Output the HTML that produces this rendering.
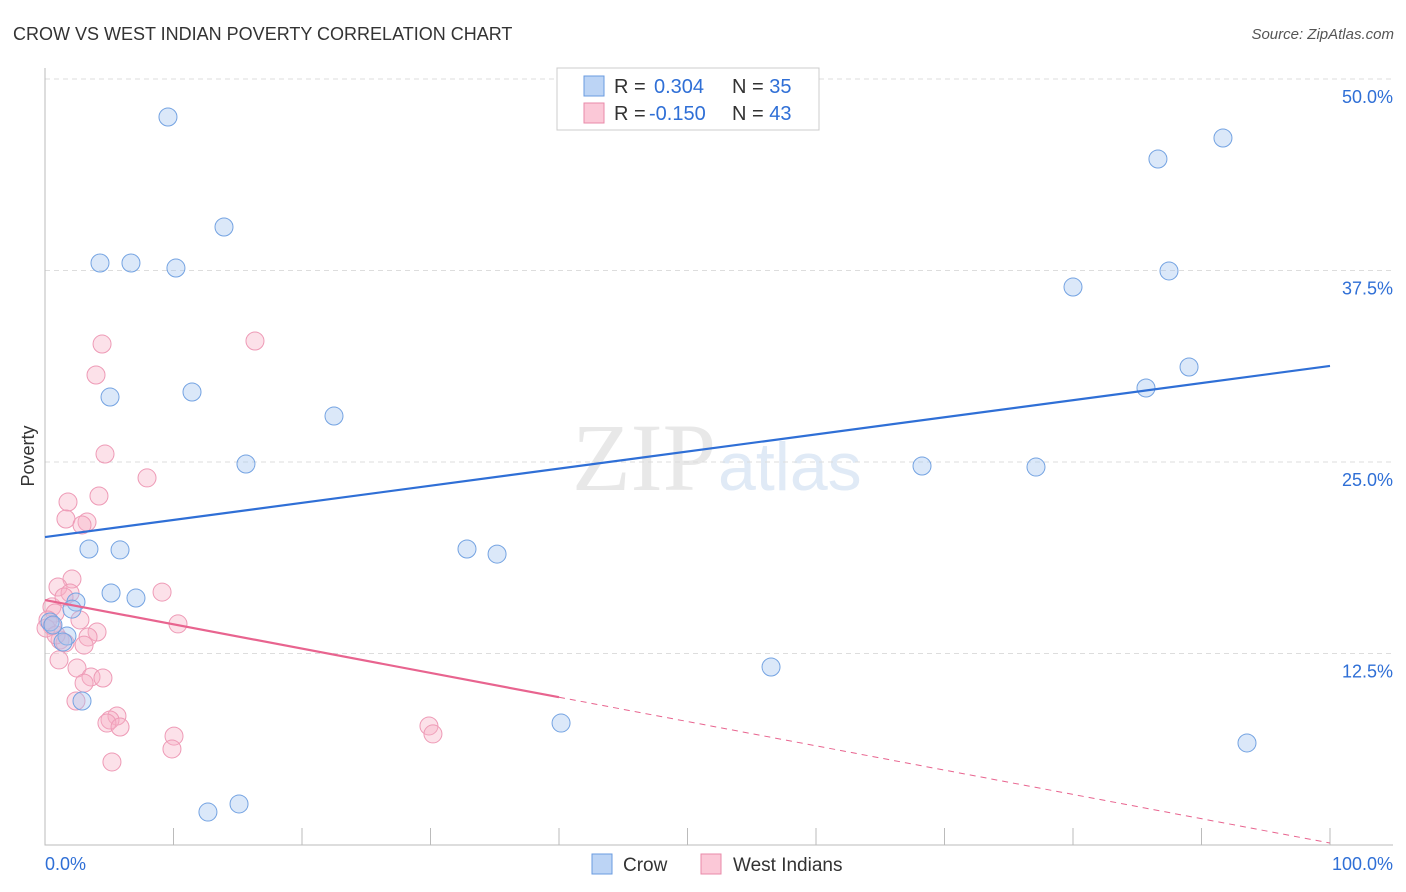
<!DOCTYPE html>
<html><head><meta charset="utf-8"><style>
body{margin:0;background:#fff;font-family:"Liberation Sans",sans-serif;}
svg{display:block}
</style></head><body>
<svg id="c" width="1406" height="892">
<text x="13" y="40" font-size="18" fill="#333">CROW VS WEST INDIAN POVERTY CORRELATION CHART</text>
<text x="1394" y="39" font-size="15" fill="#555" font-style="italic" text-anchor="end">Source: ZipAtlas.com</text>
<text x="716" y="490" font-size="96" fill="#e8e8e8" font-family="Liberation Serif,serif" text-anchor="end">ZIP</text>
<text x="718" y="490" font-size="68" fill="#e0eaf6">atlas</text>
<text x="34" y="456" font-size="18" fill="#333" transform="rotate(-90 34 456)" text-anchor="middle">Poverty</text>
<g id="grid"></g><g id="marks"></g>
<g>
<rect x="557" y="68" width="262" height="62" fill="#fff" stroke="#ccc"/>
<rect x="584" y="76" width="20" height="20" fill="#bcd4f5" stroke="#6a9be0"/>
<rect x="584" y="103" width="20" height="20" fill="#fbc8d7" stroke="#e88aa8"/>
<text x="614" y="93" font-size="20" fill="#333">R = <tspan x="654" fill="#2f6fd6">0.304</tspan><tspan x="732">N = </tspan><tspan fill="#2f6fd6">35</tspan></text>
<text x="614" y="120" font-size="20" fill="#333">R = <tspan x="649" fill="#2f6fd6">-0.150</tspan><tspan x="732">N = </tspan><tspan fill="#2f6fd6">43</tspan></text>
</g>
<g>
<rect x="592" y="854" width="20" height="20" fill="#bcd4f5" stroke="#6a9be0"/>
<text x="623" y="871" font-size="19" fill="#333">Crow</text>
<rect x="701" y="854" width="20" height="20" fill="#fbc8d7" stroke="#e88aa8"/>
<text x="733" y="871" font-size="19" fill="#333">West Indians</text>
</g>
<text x="45" y="870" font-size="18" fill="#2f6fd6">0.0%</text>
<text x="1393" y="870" font-size="18" fill="#2f6fd6" text-anchor="end">100.0%</text>
</svg>
<script>
const yTicks=[50,37.5,25,12.5];
const yTickLabels=["50.0%","37.5%","25.0%","12.5%"];
const crowX=[9.57,13.93,4.28,6.69,10.19,5.06,11.44,22.49,15.64,3.42,5.84,5.14,7.08,2.41,2.10,1.71,1.40,2.88,12.68,15.10,32.84,35.18,40.16,56.50,68.25,77.12,80.0,86.61,87.47,85.68,89.03,91.67,93.54,0.39,0.62];
const crowY=[47.52,40.34,37.99,37.99,37.66,29.24,29.57,28.0,24.87,19.32,19.26,16.45,16.12,15.86,15.40,13.64,13.25,9.40,2.15,2.68,19.32,18.99,7.96,11.62,24.74,24.67,36.42,44.78,37.47,29.83,31.20,46.15,6.66,14.56,14.36];
const wiX=[4.44,16.34,3.97,4.67,7.94,4.20,1.79,1.63,3.27,2.88,2.10,1.01,1.95,9.11,0.54,0.78,2.72,10.35,0.23,0.54,0.08,4.05,3.35,1.17,3.04,1.56,1.09,2.49,3.58,4.51,3.04,2.41,5.60,5.06,4.82,5.84,10.04,9.88,5.21,29.88,30.19,0.86,1.48];
const wiY=[32.70,32.90,30.68,25.52,23.96,22.78,22.39,21.28,21.08,20.89,17.36,16.84,16.45,16.51,15.54,15.14,14.69,14.43,14.69,14.30,14.16,13.90,13.58,13.38,13.05,13.19,12.08,11.55,10.97,10.90,10.57,9.40,8.42,8.16,7.96,7.70,7.11,6.27,5.42,7.77,7.25,13.71,16.19];
const crowTrend=[20.10,31.27];
const wiTrend=[15.99,0.13];
const wiSolidEnd=40;
const NS="http://www.w3.org/2000/svg";
const X=v=>45+v*12.85, Y=v=>845-v*15.32;
function mk(t,a,p){const e=document.createElementNS(NS,t);for(const k in a)e.setAttribute(k,a[k]);p.appendChild(e);return e;}
const g=document.getElementById('grid'),m=document.getElementById('marks');
yTicks.forEach((t,i)=>{
 const l=mk('line',{x1:45,x2:1393,y1:Y(t),y2:Y(t),stroke:'#ddd','stroke-dasharray':'5,4'},g);
 
 
 const tx=mk('text',{x:1393,y:Y(t)+24,'font-size':18,fill:'#2f6fd6','text-anchor':'end'},g);
 tx.textContent=yTickLabels[i];
 
 
});
const ax=mk('path',{d:'M45 68V845H1393',stroke:'#bbb',fill:'none'},g);


for(let i=1;i<=10;i++){const t=mk('line',{x1:X(i*10),x2:X(i*10),y1:828,y2:845,stroke:'#bbb'},g);
 
 }
wiX.forEach((x,i)=>{const c=mk('circle',{cx:X(x),cy:Y(wiY[i]),r:9,fill:'rgba(248,175,198,0.38)',stroke:'#ee9ab6','stroke-width':1},m);
 
 });
crowX.forEach((x,i)=>{const c=mk('circle',{cx:X(x),cy:Y(crowY[i]),r:9,fill:'rgba(165,198,240,0.4)',stroke:'#74a3e2','stroke-width':1},m);
 
 });
const cl=mk('line',{x1:X(0),y1:Y(crowTrend[0]),x2:X(100),y2:Y(crowTrend[1]),stroke:'#2f6fd6','stroke-width':2.2},m);


const wm=wiTrend[0]+(wiTrend[1]-wiTrend[0])*wiSolidEnd/100;
const wl=mk('line',{x1:X(0),y1:Y(wiTrend[0]),x2:X(wiSolidEnd),y2:Y(wm),stroke:'#e8648f','stroke-width':2.2},m);


const wd=mk('line',{x1:X(wiSolidEnd),y1:Y(wm),x2:X(100),y2:Y(wiTrend[1]),stroke:'#e8648f','stroke-width':1,'stroke-dasharray':'6,5'},m);


</script>
</body></html>
